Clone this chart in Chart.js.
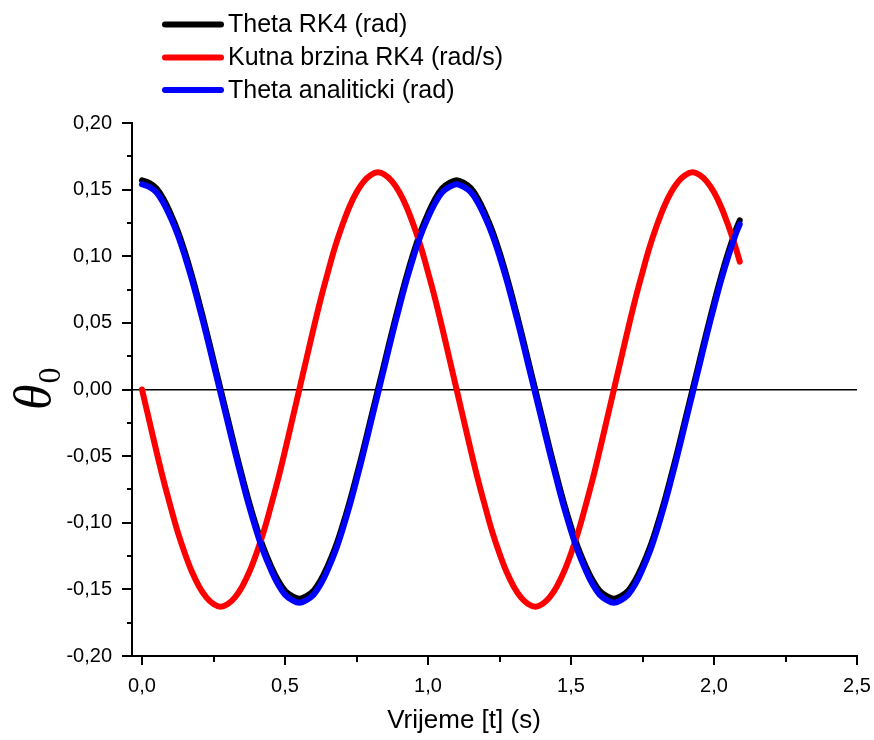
<!DOCTYPE html>
<html>
<head>
<meta charset="utf-8">
<script src="https://cdn.jsdelivr.net/npm/chart.js@4.4.1/dist/chart.umd.min.js"></script>
<style>
  html, body { margin: 0; padding: 0; background: #ffffff; }
  #wrap { width: 874px; height: 740px; }
</style>
</head>
<body>
<div id="wrap"><canvas id="c" width="874" height="740"></canvas></div>
<script>
// ---- data ----
const timeValues = [0, 0.025, 0.05, 0.075, 0.1, 0.125, 0.15, 0.175, 0.2, 0.225, 0.25, 0.275, 0.3, 0.325, 0.35, 0.375,
  0.4, 0.425, 0.45, 0.475, 0.5, 0.525, 0.55, 0.575, 0.6, 0.625, 0.65, 0.675, 0.7, 0.725, 0.75, 0.775,
  0.8, 0.825, 0.85, 0.875, 0.9, 0.925, 0.95, 0.975, 1.0, 1.025, 1.05, 1.075, 1.1, 1.125, 1.15, 1.175,
  1.2, 1.225, 1.25, 1.275, 1.3, 1.325, 1.35, 1.375, 1.4, 1.425, 1.45, 1.475, 1.5, 1.525, 1.55, 1.575,
  1.6, 1.625, 1.65, 1.675, 1.7, 1.725, 1.75, 1.775, 1.8, 1.825, 1.85, 1.875, 1.9, 1.925, 1.95, 1.975,
  2.0, 2.025, 2.05, 2.075, 2.09];
const thetaRK4 = [0.157, 0.155, 0.151, 0.143, 0.132, 0.119, 0.103, 0.085, 0.065, 0.044, 0.022, 0.000,
  -0.022, -0.044, -0.065, -0.085, -0.103, -0.119, -0.132, -0.143, -0.151, -0.155, -0.157,
  -0.155, -0.151, -0.143, -0.132, -0.119, -0.103, -0.085, -0.065, -0.044, -0.022, 0.000,
  0.022, 0.044, 0.065, 0.085, 0.103, 0.119, 0.132, 0.143, 0.151, 0.155, 0.157,
  0.155, 0.151, 0.143, 0.132, 0.119, 0.103, 0.085, 0.065, 0.044, 0.022, 0.000,
  -0.022, -0.044, -0.065, -0.085, -0.103, -0.119, -0.132, -0.143, -0.151, -0.155, -0.157,
  -0.155, -0.151, -0.143, -0.132, -0.119, -0.103, -0.085, -0.065, -0.044, -0.022, 0.000,
  0.022, 0.044, 0.065, 0.085, 0.103, 0.119, 0.127];
const kutnaBrzinaRK4 = [0, -0.023, -0.046, -0.068, -0.088, -0.107, -0.123, -0.137, -0.148, -0.156, -0.161, -0.163,
  -0.161, -0.156, -0.148, -0.137, -0.123, -0.107, -0.088, -0.068, -0.046, -0.023, 0,
  0.023, 0.046, 0.068, 0.088, 0.107, 0.123, 0.137, 0.148, 0.156, 0.161, 0.163,
  0.161, 0.156, 0.148, 0.137, 0.123, 0.107, 0.088, 0.068, 0.046, 0.023, 0,
  -0.023, -0.046, -0.068, -0.088, -0.107, -0.123, -0.137, -0.148, -0.156, -0.161, -0.163,
  -0.161, -0.156, -0.148, -0.137, -0.123, -0.107, -0.088, -0.068, -0.046, -0.023, 0,
  0.023, 0.046, 0.068, 0.088, 0.107, 0.123, 0.137, 0.148, 0.156, 0.161, 0.163,
  0.161, 0.156, 0.148, 0.137, 0.123, 0.107, 0.096];
const thetaAnaliticki = [0.154, 0.152, 0.148, 0.140, 0.129, 0.116, 0.100, 0.082, 0.062, 0.041, 0.019, -0.003,
  -0.025, -0.047, -0.068, -0.088, -0.106, -0.122, -0.135, -0.146, -0.154, -0.158, -0.160,
  -0.158, -0.154, -0.146, -0.135, -0.122, -0.106, -0.088, -0.068, -0.047, -0.025, -0.003,
  0.019, 0.041, 0.062, 0.082, 0.100, 0.116, 0.129, 0.140, 0.148, 0.152, 0.154,
  0.152, 0.148, 0.140, 0.129, 0.116, 0.100, 0.082, 0.062, 0.041, 0.019, -0.003,
  -0.025, -0.047, -0.068, -0.088, -0.106, -0.122, -0.135, -0.146, -0.154, -0.158, -0.160,
  -0.158, -0.154, -0.146, -0.135, -0.122, -0.106, -0.088, -0.068, -0.047, -0.025, -0.003,
  0.019, 0.041, 0.062, 0.082, 0.100, 0.116, 0.124];
const seriesLabels = ['Theta RK4 (rad)', 'Kutna brzina RK4 (rad/s)', 'Theta analiticki (rad)'];
const seriesColors = ['#000000', '#ff0000', '#0000ff'];
const xTickValues = [0, 0.25, 0.5, 0.75, 1.0, 1.25, 1.5, 1.75, 2.0, 2.25, 2.5];
const yTickValues = [-0.2, -0.175, -0.15, -0.125, -0.1, -0.075, -0.05, -0.025, 0, 0.025, 0.05, 0.075, 0.1, 0.125, 0.15, 0.175, 0.2];
const xAxisTitle = 'Vrijeme [t] (s)';
const yAxisSymbol = 'θ';
const yAxisSubscript = '0';

const FONT = "'Liberation Sans', Arial, sans-serif";

function pts(arr) { return timeValues.map((t, i) => ({ x: t, y: arr[i] })); }
function isMajor(v, step) { const r = v / step; return Math.abs(r - Math.round(r)) < 1e-6; }
function fmt(v, d) { return v.toFixed(d).replace('.', ','); }

const allSeries = [thetaRK4, kutnaBrzinaRK4, thetaAnaliticki];
const orders = [3, 2, 1];
const datasets = allSeries.map((s, i) => ({
  label: seriesLabels[i],
  data: pts(s),
  borderColor: seriesColors[i],
  backgroundColor: seriesColors[i],
  borderWidth: 6,
  borderCapStyle: 'round',
  borderJoinStyle: 'round',
  pointRadius: 0,
  tension: 0.4,
  fill: false,
  order: orders[i]
}));

const decorPlugin = {
  id: 'decor',
  afterDraw(chart) {
    const ctx = chart.ctx;
    const xs = chart.scales.x, ys = chart.scales.y;
    const area = chart.chartArea;
    ctx.save();
    ctx.strokeStyle = '#000';
    ctx.lineWidth = 2;
    ctx.lineCap = 'butt';
    // y ticks (outward, left)
    yTickValues.forEach(v => {
      const y = Math.round(ys.getPixelForValue(v));
      const len = isMajor(v, 0.05) ? 10 : 5;
      ctx.beginPath();
      ctx.moveTo(area.left, y);
      ctx.lineTo(area.left - len, y);
      ctx.stroke();
    });
    // x ticks (outward, down) and labels
    ctx.fillStyle = '#000';
    ctx.font = '20px ' + FONT;
    ctx.textAlign = 'center';
    ctx.textBaseline = 'middle';
    xTickValues.forEach(v => {
      const x = Math.round(xs.getPixelForValue(v));
      const major = isMajor(v, 0.5);
      const len = major ? 9 : 6;
      ctx.beginPath();
      ctx.moveTo(x, area.bottom);
      ctx.lineTo(x, area.bottom + len);
      ctx.stroke();
      if (major) ctx.fillText(fmt(v, 1), x, 686);
    });
    // x axis title
    ctx.font = '26px ' + FONT;
    ctx.fillText(xAxisTitle, 464, 721);
    // y axis title θ0 rotated
    ctx.save();
    ctx.translate(50, 410);
    ctx.rotate(-Math.PI / 2);
    ctx.textAlign = 'left';
    ctx.textBaseline = 'alphabetic';
    ctx.font = 'italic 52px "Liberation Serif", "Times New Roman", serif';
    ctx.fillText(yAxisSymbol, 0, 0);
    const w = ctx.measureText(yAxisSymbol).width;
    ctx.font = '32px "Liberation Serif", "Times New Roman", serif';
    ctx.fillText(yAxisSubscript, w + 1, 10);
    ctx.restore();
    // legend
    const rows = [24.5, 57.5, 90];
    ctx.font = '25px ' + FONT;
    ctx.textAlign = 'left';
    ctx.textBaseline = 'middle';
    chart.data.datasets.forEach((ds, i) => {
      const y = rows[i];
      ctx.strokeStyle = ds.borderColor;
      ctx.lineWidth = 6;
      ctx.lineCap = 'round';
      ctx.beginPath();
      ctx.moveTo(165, y);
      ctx.lineTo(221, y);
      ctx.stroke();
      ctx.fillStyle = '#000';
      ctx.fillText(ds.label, 228, y + 1);
    });
    ctx.restore();
  }
};

new Chart(document.getElementById('c'), {
  type: 'line',
  data: { datasets },
  options: {
    responsive: false,
    animation: false,
    layout: { padding: { left: 0, top: 123, right: 17, bottom: 0 } },
    plugins: { legend: { display: false }, tooltip: { enabled: false } },
    scales: {
      x: {
        type: 'linear',
        min: -0.035,
        max: 2.5,
        afterBuildTicks: s => { s.ticks = xTickValues.map(v => ({ value: v })); },
        afterFit: s => { s.height = 84; },
        grid: { display: false, drawTicks: false },
        border: { display: true, color: '#000', width: 2 },
        ticks: { display: false }
      },
      y: {
        type: 'linear',
        min: -0.2,
        max: 0.2,
        afterBuildTicks: s => { s.ticks = yTickValues.map(v => ({ value: v })); },
        afterFit: s => { s.width = 132; },
        grid: {
          display: true,
          drawTicks: false,
          drawOnChartArea: true,
          lineWidth: 1.5,
          color: c => (c.tick && Math.abs(c.tick.value) < 1e-9) ? '#000' : 'rgba(0,0,0,0)'
        },
        border: { display: true, color: '#000', width: 2 },
        ticks: {
          padding: 20,
          color: '#000',
          font: { family: FONT, size: 20 },
          autoSkip: false,
          callback: v => isMajor(v, 0.05) ? fmt(v, 2) : ''
        }
      }
    }
  },
  plugins: [decorPlugin]
});
</script>
</body>
</html>
